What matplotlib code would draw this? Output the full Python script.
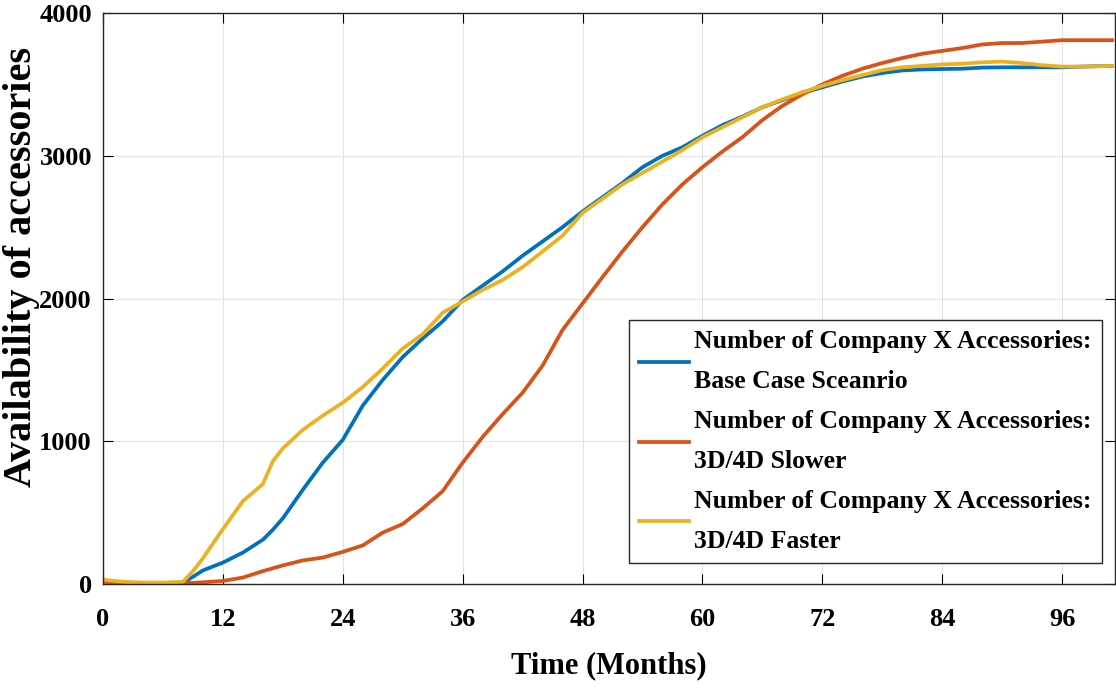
import matplotlib
matplotlib.use("Agg")
import matplotlib.pyplot as plt

# months
months = [0, 2, 4, 6, 8, 9, 10, 12, 14, 16, 17, 18, 20, 22, 24, 26, 28, 30, 32, 34, 36, 38, 40,
          42, 44, 46, 48, 50, 52, 54, 56, 58, 60, 62, 64, 66, 68, 70, 72, 74, 76, 78, 80,
          82, 84, 86, 88, 90, 92, 94, 96, 98, 101]

base_case = [20, 10, 5, 5, 10, 50, 95, 150, 220, 310, 380, 460, 660, 850, 1010, 1250, 1430, 1590, 1720, 1840, 1990, 2090, 2190,
             2300, 2400, 2500, 2610, 2710, 2810, 2920, 3000, 3060, 3140, 3215, 3275, 3340, 3390, 3440, 3480, 3520, 3555, 3580, 3598,
             3605, 3608, 3610, 3618, 3620, 3620, 3620, 3620, 3625, 3630]

slower = [15, 10, 5, 5, 5, 8, 12, 21, 45, 90, 110, 130, 165, 185, 225, 270, 360, 420, 530, 650, 850, 1030, 1190,
          1340, 1530, 1780, 1965, 2150, 2330, 2500, 2660, 2800, 2920, 3030, 3130, 3250, 3350, 3430, 3500, 3560, 3610, 3650, 3685,
          3715, 3735, 3755, 3780, 3790, 3790, 3800, 3810, 3810, 3810]

faster = [30, 15, 10, 10, 15, 90, 180, 385, 580, 700, 860, 950, 1080, 1180, 1270, 1380, 1510, 1650, 1750, 1900, 1980, 2060, 2130,
          2220, 2330, 2440, 2600, 2700, 2800, 2880, 2960, 3040, 3130, 3200, 3270, 3340, 3395, 3445, 3490, 3530, 3565, 3600, 3620,
          3630, 3640, 3645, 3655, 3660, 3650, 3635, 3625, 3625, 3630]

labels = ["Number of Company X Accessories:\nBase Case Sceanrio",
          "Number of Company X Accessories:\n3D/4D Slower",
          "Number of Company X Accessories:\n3D/4D Faster"]
colors = ["#0072BD", "#D95319", "#EDB120"]

x_ticks = [0, 12, 24, 36, 48, 60, 72, 84, 96]
y_ticks = [0, 1000, 2000, 3000, 4000]

plt.rcParams['font.family'] = ['Liberation Serif', 'DejaVu Serif']
plt.rcParams['font.weight'] = 'bold'

fig = plt.figure(figsize=(11.16, 6.88), dpi=100)
ax = fig.add_axes([0.0923, 0.1512, 0.9068, 0.8298])

for ys, lab, c in zip([base_case, slower, faster], labels, colors):
    ax.plot(months, ys, color=c, lw=2.7, label=lab)

ax.set_xlim(0, 101.3)
ax.set_ylim(0, 4000)
ax.set_xticks(x_ticks)
ax.set_yticks(y_ticks)
ax.grid(True, color='#e3e3e3', lw=0.8)
ax.set_axisbelow(True)
ax.tick_params(direction='in', length=7, width=0.8, top=True, right=True, labelsize=19)
ax.tick_params(axis='x', pad=17)
ax.tick_params(axis='y', pad=8)
for s in ax.spines.values():
    s.set_color('#262626')
    s.set_linewidth(1.0)

ax.set_xlabel("Time (Months)", fontsize=22, fontweight='bold', labelpad=15)
ax.set_ylabel("Availability of accessories", fontsize=29, fontweight='bold')
ax.yaxis.set_label_coords(-0.0625, 0.555)

leg = ax.legend(loc='lower right', bbox_to_anchor=(0.987, 0.037), borderaxespad=0, fontsize=18.5,
                handlelength=1.95, handletextpad=0.2, labelspacing=0.66, borderpad=0.4,
                frameon=True, fancybox=False, edgecolor='#262626', framealpha=1)
leg.get_frame().set_linewidth(1.0)
for t in leg.get_texts():
    t.set_linespacing(1.93)

fig.savefig("out.png", dpi=100)
